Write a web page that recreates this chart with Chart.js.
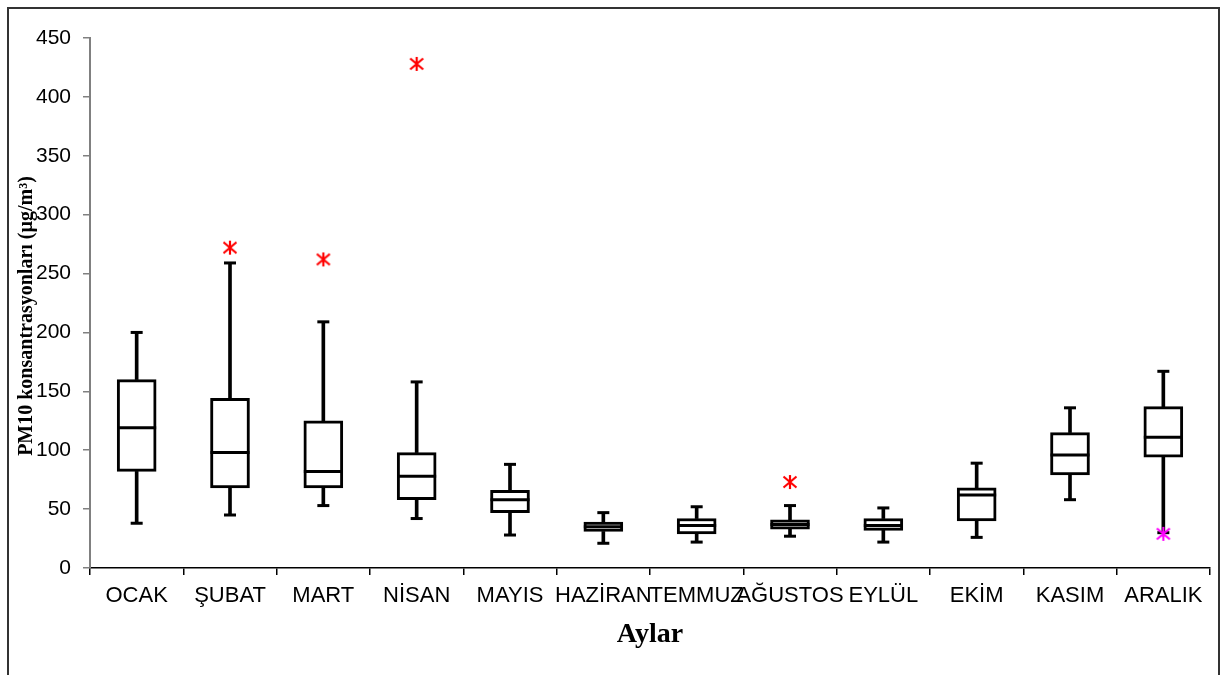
<!DOCTYPE html>
<html><head><meta charset="utf-8">
<script src="https://cdn.jsdelivr.net/npm/chart.js@4.4.1/dist/chart.umd.min.js"></script>
<style>
html,body{margin:0;padding:0;background:#fff;}
#wrap{position:relative;width:1220px;height:675px;overflow:hidden;background:#fff;}
#frame{position:absolute;left:7px;top:7px;width:1213px;height:700px;border:2px solid #333;box-sizing:border-box;pointer-events:none;}
canvas{display:block;}
</style></head><body>
<div id="wrap"><canvas id="c" width="1220" height="675"></canvas><div id="frame"></div></div>
<script>
// ---- data ----
const months = ['OCAK','ŞUBAT','MART','NİSAN','MAYIS','HAZİRAN','TEMMUZ','AĞUSTOS','EYLÜL','EKİM','KASIM','ARALIK'];
const minValues    = [38, 45, 53, 42, 28, 21, 22, 27, 22, 26, 58, 30];
const q1Values     = [82, 68, 68, 58, 47, 31, 29, 33, 32, 40, 79, 94];
const medianValues = [119, 98, 82, 78, 58, 35, 36, 37, 36, 62, 96, 111];
const q3Values     = [160, 144, 125, 98, 66, 39, 42, 41, 42, 68, 115, 137];
const maxValues    = [200, 259, 209, 158, 88, 47, 52, 53, 51, 89, 136, 167];
const outlierMonths = ['ŞUBAT', 'MART', 'NİSAN', 'AĞUSTOS'];
const outlierValues = [272, 262, 428, 73];
const lowOutlierMonths = ['ARALIK'];
const lowOutlierValues = [29];
const yTickMin = 0, yTickMax = 450, yTickStep = 50;

function makeStar(color){
  const c = document.createElement('canvas'); c.width = 16; c.height = 16;
  const g = c.getContext('2d'); g.strokeStyle = color; g.lineWidth = 2.2; g.beginPath();
  g.moveTo(8,1); g.lineTo(8,15);
  g.moveTo(1.5,2.5); g.lineTo(14.5,13.5);
  g.moveTo(1.5,13.5); g.lineTo(14.5,2.5);
  g.stroke(); return c;
}
const redStar = makeStar('#ff0000');
const magentaStar = makeStar('#ff00ff');

const boxData = months.map((m,i) => [q1Values[i], q3Values[i]]);
const lowWhisker = months.map((m,i) => [minValues[i], q1Values[i]]);
const highWhisker = months.map((m,i) => [q3Values[i], maxValues[i]]);
const outliers = outlierMonths.map((m,i) => ({x: m, y: outlierValues[i]}));
const lowOutliers = lowOutlierMonths.map((m,i) => ({x: m, y: lowOutlierValues[i]}));

const lineBase = {type:'line', showLine:false, pointBorderColor:'#000', pointBackgroundColor:'#000', pointBorderWidth:3, pointHoverRadius:0};

function shiftTitle(s, dy){
  if (s._titleShifted) return;
  const orig = s.drawTitle;
  s.drawTitle = function(){ this.ctx.save(); this.ctx.translate(0, dy); orig.call(this); this.ctx.restore(); };
  s._titleShifted = true;
}

new Chart(document.getElementById('c'), {
  type: 'bar',
  data: {
    labels: months,
    datasets: [
      {type:'line', data: lowOutliers, showLine:false, pointStyle: magentaStar, pointRadius:7},
      {type:'line', data: outliers, showLine:false, pointStyle: redStar, pointRadius:7},
      Object.assign({data: medianValues, pointStyle:'line', pointRadius:19.5}, lineBase),
      Object.assign({data: maxValues, pointStyle:'line', pointRadius:6}, lineBase),
      Object.assign({data: minValues, pointStyle:'line', pointRadius:6}, lineBase),
      {data: boxData, backgroundColor:'#fff', borderColor:'#000', borderWidth:3, borderSkipped:false, barThickness:39, grouped:false},
      {data: highWhisker, backgroundColor:'#000', borderWidth:0, barThickness:3, grouped:false},
      {data: lowWhisker, backgroundColor:'#000', borderWidth:0, barThickness:3, grouped:false}
    ]
  },
  options: {
    responsive:false, devicePixelRatio:1, animation:false,
    layout:{autoPadding:false, padding:{left:0, top:38, right:10, bottom:0}},
    plugins:{legend:{display:false}, tooltip:{enabled:false}},
    scales:{
      x:{
        afterFit: s => { s.height = 107; s.paddingLeft = 0; s.paddingRight = 0; },
        grid:{display:true, drawOnChartArea:false, drawTicks:true, tickLength:7, color:'#000', lineWidth:1.5, offset:true},
        border:{display:true, color:'#000', width:1.5},
        ticks:{autoSkip:false, maxRotation:0, minRotation:0, padding:8, color:'#000', font:{family:'Liberation Sans', size:22}},
        title:{display:true, text:'Aylar', color:'#000', font:{family:'Liberation Serif', size:28, weight:'bold'}, padding:{top:0, bottom:23}}
      },
      y:{
        min:yTickMin, max:yTickMax,
        afterFit: s => { s.width = 90; s.paddingTop = 0; s.paddingBottom = 0; shiftTitle(s, 13); },
        grid:{display:true, drawOnChartArea:false, drawTicks:true, tickLength:7, color:'#808080', lineWidth:1.5},
        border:{display:true, color:'#808080', width:2},
        ticks:{stepSize:yTickStep, padding:12, color:'#000', font:{family:'Liberation Sans', size:21}},
        title:{display:true, text:'PM10 konsantrasyonları (µg/m³)', color:'#000', font:{family:'Liberation Serif', size:20, weight:'bold'}, padding:{top:15, bottom:0}}
      }
    }
  }
});
</script>
</body></html>
